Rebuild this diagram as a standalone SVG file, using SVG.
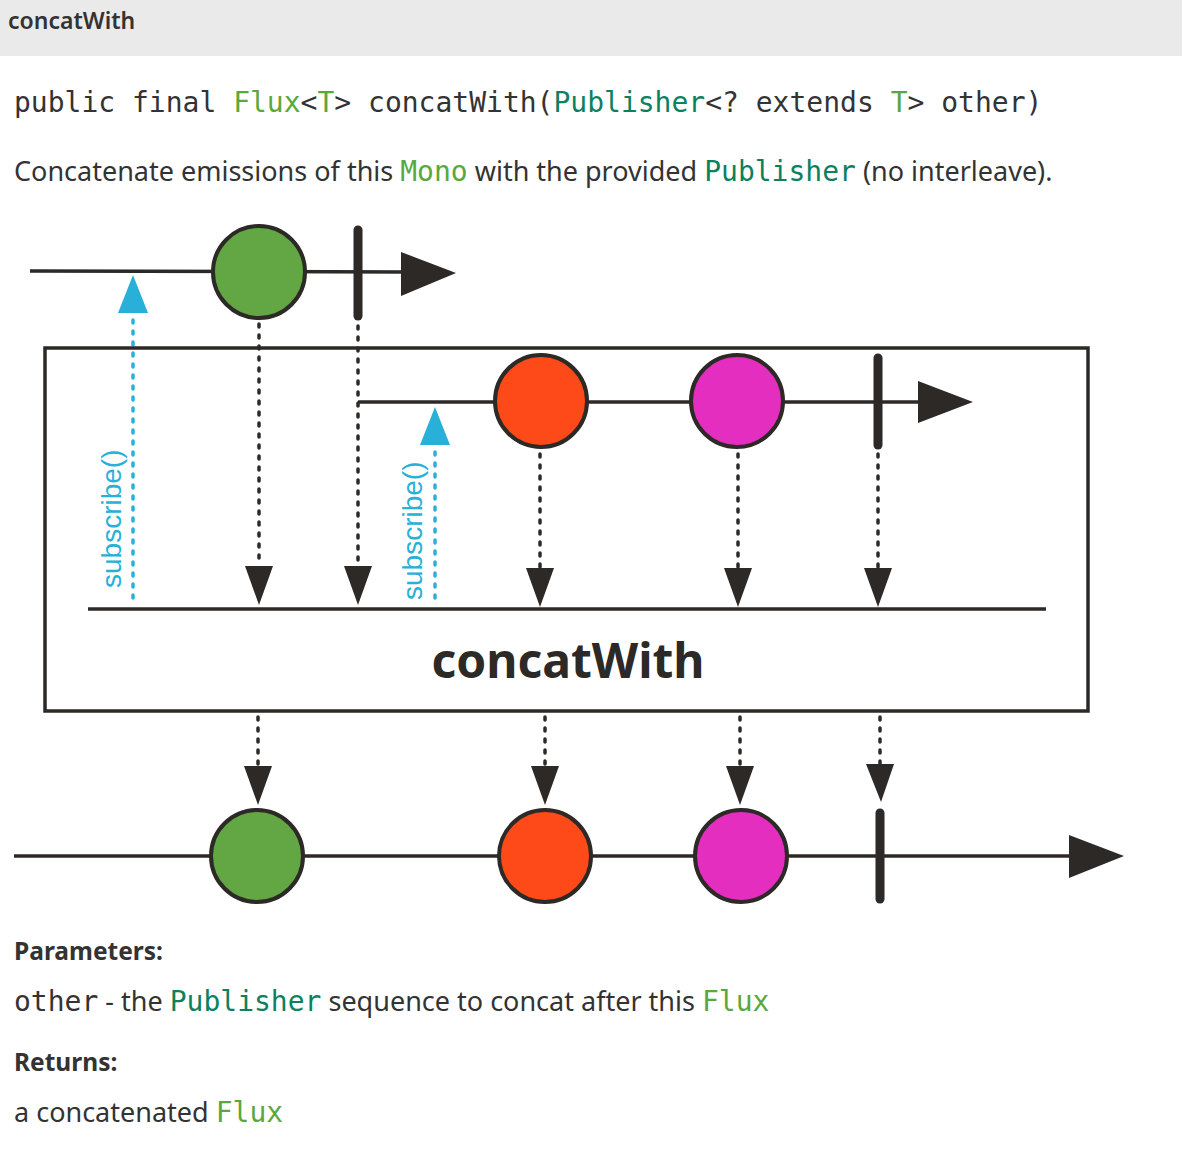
<svg xmlns="http://www.w3.org/2000/svg" width="1182" height="1168" viewBox="0 0 1182 1168">
<style>
.sans{font-family:"Noto Sans","Liberation Sans",sans-serif;fill:#333}
.mono{font-family:"DejaVu Sans Mono","Liberation Mono",monospace}
.fl{fill:#5aa83c}
.pub{fill:#0b8160}
.line{stroke:#2c2926;stroke-width:3.5;fill:none}
.dot{stroke:#2c2926;stroke-width:3.5;stroke-dasharray:3 8;stroke-linecap:round;fill:none}
.bdot{stroke:#29b0d8;stroke-width:3.5;stroke-dasharray:3 8;stroke-linecap:round;fill:none}
.bar{stroke:#2c2926;stroke-width:9;stroke-linecap:round}
.circ{stroke:#2c2926;stroke-width:4}
.ah{fill:#2c2926}
.bh{fill:#29b0d8}
.sub{font-family:"Liberation Sans",Arial,sans-serif;font-size:28px;fill:#29b0d8}
</style>
<rect width="1182" height="1168" fill="#fff"/>
<rect x="0" y="0" width="1182" height="56" fill="#eaeaea"/>
<text class="sans" x="8" y="29" font-size="23" font-weight="600">concatWith</text>
<text class="mono" x="14" y="112" font-size="28" fill="#333" xml:space="preserve">public final <tspan class="fl">Flux</tspan>&lt;<tspan class="fl">T</tspan>&gt; concatWith(<tspan class="pub">Publisher</tspan>&lt;? extends <tspan class="fl">T</tspan>&gt; other)</text>
<text class="sans" x="14" y="181" font-size="27">Concatenate emissions of this <tspan class="mono fl" font-size="28">Mono</tspan> with the provided <tspan class="mono pub" font-size="28">Publisher</tspan> (no interleave).</text>

<g id="connectors">
  <line class="line" x1="30" y1="271" x2="405" y2="272"/>
  <polygon class="ah" points="401,252 456,273 401,296"/>
  <line class="line" x1="358" y1="402" x2="920" y2="402"/>
  <polygon class="ah" points="918,381 973,402 918,423"/>
  <line class="line" x1="88" y1="609" x2="1046" y2="609"/>
  <line class="line" x1="14" y1="856" x2="1072" y2="856"/>
  <polygon class="ah" points="1069,835 1124,856 1069,878"/>
  <line class="bdot" x1="133" y1="320" x2="133" y2="604"/>
  <polygon class="bh" points="133,275 148,313 118,313"/>
  <line class="bdot" x1="435" y1="452" x2="435" y2="604"/>
  <polygon class="bh" points="435,407 450,445 420,445"/>
  <line class="dot" x1="259" y1="324" x2="259" y2="566"/>
  <polygon class="ah" points="245,566 273,566 259,605"/>
  <line class="dot" x1="358" y1="326" x2="358" y2="566"/>
  <polygon class="ah" points="344,566 372,566 358,605"/>
  <line class="dot" x1="540" y1="454" x2="540" y2="568"/>
  <polygon class="ah" points="526,568 554,568 540,607"/>
  <line class="dot" x1="738" y1="454" x2="738" y2="568"/>
  <polygon class="ah" points="724,568 752,568 738,607"/>
  <line class="dot" x1="878" y1="454" x2="878" y2="568"/>
  <polygon class="ah" points="864,568 892,568 878,607"/>
  <line class="dot" x1="258" y1="717" x2="258" y2="766"/>
  <polygon class="ah" points="244,766 272,766 258,805"/>
  <line class="dot" x1="545" y1="717" x2="545" y2="766"/>
  <polygon class="ah" points="531,766 559,766 545,805"/>
  <line class="dot" x1="740" y1="717" x2="740" y2="766"/>
  <polygon class="ah" points="726,766 754,766 740,805"/>
  <line class="dot" x1="880" y1="717" x2="880" y2="764"/>
  <polygon class="ah" points="866,764 894,764 881,802"/>
</g>

<g id="operator">
  <rect x="45" y="348" width="1043" height="363" fill="none" stroke="#2c2926" stroke-width="3.5"/>
  <text x="568" y="678" text-anchor="middle" font-family="Noto Sans,Liberation Sans,sans-serif" font-weight="bold" font-size="48" fill="#2c2926">concatWith</text>
</g>

<g id="sub-label-1"><text class="sub" transform="translate(121,588) rotate(-90)">subscribe()</text></g>
<g id="sub-label-2"><text class="sub" transform="translate(422,600) rotate(-90)">subscribe()</text></g>

<g id="src-green"><circle class="circ" cx="259" cy="272" r="46" fill="#62a744"/></g>
<g id="src-complete"><line class="bar" x1="358" y1="230" x2="358" y2="316"/></g>
<g id="other-red"><circle class="circ" cx="541" cy="401" r="46" fill="#fe4a19"/></g>
<g id="other-magenta"><circle class="circ" cx="737" cy="401" r="46" fill="#e42ec0"/></g>
<g id="other-complete"><line class="bar" x1="878" y1="358" x2="878" y2="445"/></g>
<g id="out-green"><circle class="circ" cx="257" cy="856" r="46" fill="#62a744"/></g>
<g id="out-red"><circle class="circ" cx="545" cy="856" r="46" fill="#fe4a19"/></g>
<g id="out-magenta"><circle class="circ" cx="741" cy="856" r="46" fill="#e42ec0"/></g>
<g id="out-complete"><line class="bar" x1="880" y1="813" x2="880" y2="899"/></g>

<text class="sans" x="14" y="960" font-size="24.5" font-weight="bold" fill="#444">Parameters:</text>
<text class="sans" x="14" y="1011" font-size="27"><tspan class="mono" font-size="28" fill="#333">other</tspan> - the <tspan class="mono pub" font-size="28">Publisher</tspan> sequence to concat after this <tspan class="mono fl" font-size="28">Flux</tspan></text>
<text class="sans" x="14" y="1071" font-size="24.5" font-weight="bold" fill="#444">Returns:</text>
<text class="sans" x="14" y="1122" font-size="27">a concatenated <tspan class="mono fl" font-size="28">Flux</tspan></text>
</svg>
